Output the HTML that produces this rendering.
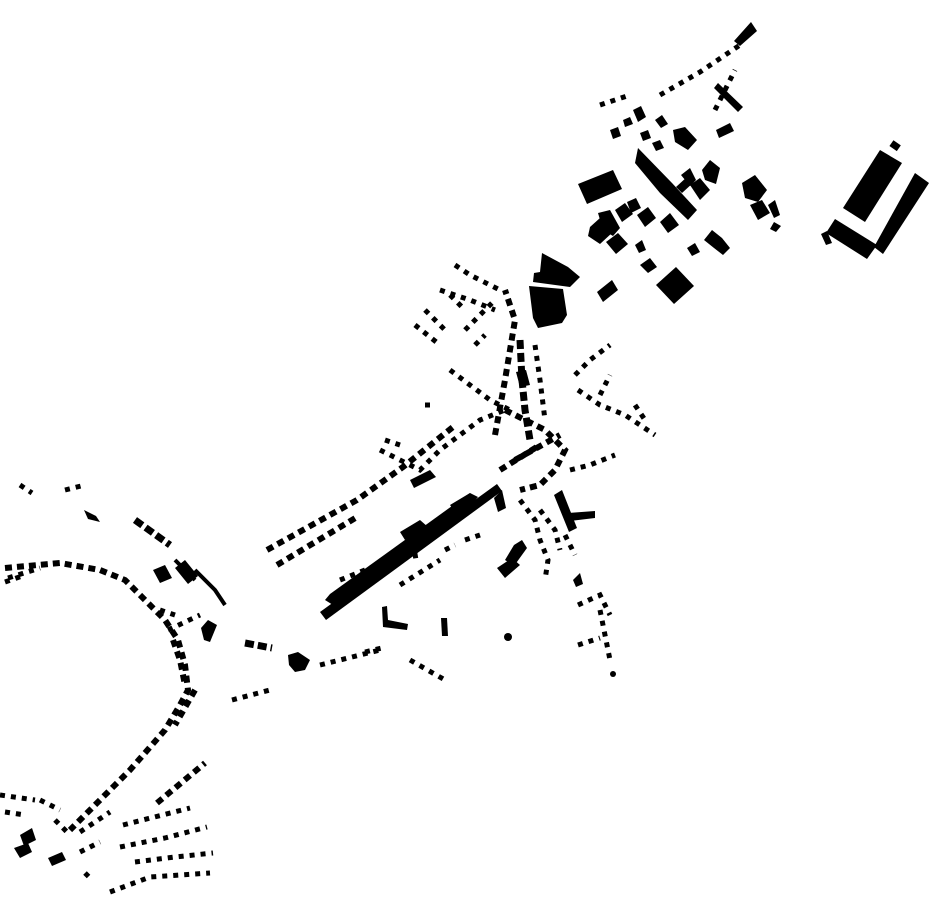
<!DOCTYPE html>
<html><head><meta charset="utf-8"><style>
html,body{margin:0;padding:0;background:#fff;}
svg{display:block}
.d{fill:none;stroke:#000;stroke-width:6;stroke-dasharray:7 5}
.s{fill:none;stroke:#000;stroke-width:5;stroke-dasharray:5 6}
.t{fill:none;stroke:#000;stroke-width:7;stroke-dasharray:9 4}
.l{fill:none;stroke:#000;stroke-width:4}
</style></head><body>
<svg width="930" height="924" viewBox="0 0 930 924" xmlns="http://www.w3.org/2000/svg">
<g fill="#000">
<!-- Far right large buildings -->
<polygon points="880,150 902,163 865,222 843,208"/>
<polygon points="915,173 929,183 883,254 874,247"/>
<polygon points="835,219 877,245 867,259 826,233"/>
<polygon points="821,234 827,231 832,243 826,245"/>
<rect x="891" y="142" width="9" height="7" transform="rotate(35 895 145)"/>
<!-- Top-right cluster -->
<polygon points="751,22 757,31 740,46 734,41"/>
<polygon points="718,83 743,107 738,112 714,88"/>
<polygon points="716,130 730,123 734,131 719,138"/>
<polygon points="578,184 613,170 622,189 587,204"/>
<polygon points="676,267 694,286 674,304 656,285"/>
<polygon points="638,148 672,183 697,210 688,220 660,193 635,163"/>
<polygon points="673,130 685,127 697,140 688,150 675,142"/>
<polygon points="710,160 720,168 716,184 705,180 702,170"/>
<polygon points="742,183 755,175 767,190 758,202 745,198"/>
<polygon points="750,205 762,200 770,213 758,220"/>
<polygon points="768,205 775,200 780,215 774,218"/>
<polygon points="774,222 781,226 776,232 770,229"/>
<polygon points="681,175 690,168 696,180 690,186"/>
<polygon points="690,185 700,178 710,190 700,200"/>
<polygon points="676,187 688,176 694,182 682,193"/>
<polygon points="627,202 636,198 641,208 631,213"/>
<polygon points="615,210 625,203 633,214 622,222"/>
<polygon points="637,215 648,207 656,218 645,227"/>
<polygon points="660,222 670,213 679,225 668,233"/>
<polygon points="590,227 600,218 613,232 600,244 588,236"/>
<polygon points="598,213 610,210 620,228 613,236 603,230"/>
<polygon points="606,242 618,233 628,244 616,254"/>
<polygon points="635,245 642,240 646,250 639,253"/>
<polygon points="712,230 722,238 730,248 723,255 714,248 704,240"/>
<polygon points="687,248 695,243 700,252 692,256"/>
<polygon points="640,265 650,258 657,267 648,273"/>
<polygon points="597,292 612,280 618,290 603,302"/>
<polygon points="633,110 641,106 646,117 638,122"/>
<polygon points="623,120 630,117 633,124 625,127"/>
<polygon points="610,130 618,127 621,136 613,139"/>
<polygon points="640,133 648,130 651,138 643,141"/>
<polygon points="655,120 662,115 668,124 661,128"/>
<polygon points="652,143 660,140 664,148 656,151"/>
<!-- Central big blocks -->
<polygon points="542,253 568,267 580,277 570,287 533,282 534,273 540,272"/>
<polygon points="529,286 563,289 567,315 562,323 538,328 533,318"/>
<polygon points="554,495 562,490 577,528 569,532"/>
<polygon points="568,513 595,511 595,518 570,521"/>
<polygon points="497,568 512,558 520,565 505,578"/>
<polygon points="505,560 514,545 522,540 527,548 514,566"/>
<polygon points="494,498 502,490 506,508 498,512"/>
<polygon points="516,372 526,370 530,385 520,387"/>
<!-- central long bands -->
<polygon points="320,612 497,484 502,491 326,620" />
<polygon points="325,600 330,594 470,493 478,497 470,506 333,605"/>
<polygon points="400,532 420,520 428,527 405,540"/>
<polygon points="450,505 470,493 476,500 455,512"/>
<polygon points="410,480 430,470 436,477 414,488"/>
<polygon points="382,607 387,606 388,620 408,624 407,630 383,627"/>
<polygon points="441,618 447,618 448,636 442,636"/>
<polygon points="288,655 298,652 310,660 305,670 295,672 289,665"/>
<polygon points="153,570 165,565 172,578 160,583"/>
<polygon points="175,568 185,560 198,576 188,584"/>
<polygon points="201,628 208,620 217,625 210,642 204,640"/>
<polygon points="84,510 96,516 100,522 88,519"/>
<circle cx="508" cy="637" r="4"/>
<circle cx="613" cy="674" r="3"/>
<polygon points="573,580 580,573 583,584 576,587"/>
<polygon points="20,835 32,828 36,840 24,846"/>
<polygon points="14,848 28,843 32,852 20,858"/>
<polygon points="48,858 62,852 66,860 52,866"/>
</g>
<!-- dashed rows -->
<path class="d" d="M5,568 L60,563 L100,570 L125,580 L145,600 L165,620 L178,640 L185,665 L188,690 L180,705 L165,730 L130,770 L110,790 L92,808 L70,830"/>
<path class="s" d="M8,578 L40,568 M5,582 L25,575"/>
<path class="d" d="M173,640 L180,660 L185,685 M195,690 L175,725"/>
<path class="s" d="M110,892 L150,877 L210,873"/>
<path class="s" d="M135,862 L175,857 L213,853"/>
<path class="s" d="M120,847 L165,838 L207,827"/>
<path class="s" d="M123,825 L190,808"/>
<path class="d" d="M157,803 L205,763"/>
<path class="s" d="M80,852 L100,842 M85,873 L92,880"/>
<path class="s" d="M0,795 L35,800 M5,812 L25,815 M40,800 L60,810 M55,820 L70,835"/>
<path class="s" d="M80,832 L110,812"/>
<path class="d" d="M267,550 L357,500 L403,467 L453,427"/>
<path class="d" d="M277,565 L357,517"/>
<path class="s" d="M380,450 L420,470 L440,450 L460,435 L480,420 L505,410"/>
<path class="s" d="M385,440 L400,445 M425,405 L435,405"/>
<path class="s" d="M450,370 L490,400 L510,410"/>
<path class="d" d="M495,435 L505,380 L515,320 L505,290"/>
<path class="t" d="M520,340 L522,380 L525,410 L530,440"/>
<path class="s" d="M535,345 L540,380 L545,420"/>
<path class="s" d="M455,265 L470,275 L490,285 L500,290"/>
<path class="s" d="M440,290 L470,300 L495,310"/>
<path class="s" d="M425,310 L445,330 M415,325 L440,345 M450,295 L465,310"/>
<path class="s" d="M465,330 L495,300 M475,345 L485,335"/>
<path class="d" d="M505,410 L545,430 L565,450 L555,470 L540,485 L520,490"/>
<path class="d" d="M500,470 L540,445 M515,460 L560,435"/>
<path class="s" d="M520,500 L535,520 L540,540 L548,560 L545,580"/>
<path class="s" d="M540,510 L555,530 L560,550 M565,535 L575,555"/>
<path class="s" d="M570,470 L590,465 L615,455"/>
<path class="s" d="M575,375 L590,360 L610,345"/>
<path class="s" d="M578,390 L600,405 L625,415 L640,425 L655,435"/>
<path class="s" d="M600,395 L610,375 M635,405 L645,420"/>
<path class="s" d="M578,605 L600,595 L610,615 M578,645 L600,638 M600,610 L610,660"/>
<path class="s" d="M600,105 L630,95 M660,95 L700,72 L740,45"/>
<path class="s" d="M715,110 L735,70"/>
<path class="s" d="M20,485 L32,493"/>
<path class="s" d="M65,490 L85,485"/>
<path class="t" d="M135,520 L170,545"/>
<path class="l" d="M195,570 L215,590 L225,605"/>
<path class="l" d="M175,560 L195,580"/>
<path class="t" d="M245,643 L272,648"/>
<path class="s" d="M320,665 L380,650"/>
<path class="s" d="M410,660 L445,680"/>
<path class="s" d="M365,652 L382,648"/>
<path class="s" d="M232,700 L270,690"/>
<path class="s" d="M340,580 L390,560 L420,555 M400,585 L440,560"/>
<path class="s" d="M445,550 L455,545 M465,540 L480,535"/>
<path class="s" d="M160,610 L175,615 M168,630 L200,615"/>
</svg>
</body></html>
